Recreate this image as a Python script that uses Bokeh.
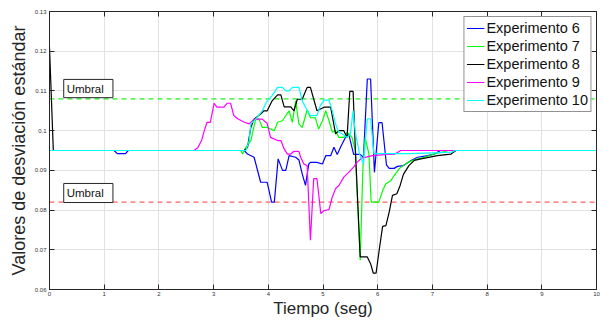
from bokeh.plotting import figure
from bokeh.models import Range1d, LinearAxis, FixedTicker, BoxAnnotation, Label
from bokeh.embed import file_html
from bokeh.resources import INLINE

# ---------------- data ----------------
x_ticks = [0, 1, 2, 3, 4, 5, 6, 7, 8, 9, 10]
y_ticks = [0.06, 0.07, 0.08, 0.09, 0.1, 0.11, 0.12, 0.13]
y_tick_labels = ["0.06", "0.07", "0.08", "0.09", "0.1", "0.11", "0.12", "0.13"]

umbral_t = [0, 10]
umbral_alto = [0.108, 0.108]
umbral_bajo = [0.082, 0.082]

t6 = [0, 1.18, 1.24, 1.39, 1.44, 3.56, 3.62, 3.74, 3.86, 3.98, 4.06, 4.11, 4.18, 4.26, 4.32, 4.38,
      4.50, 4.56, 4.62, 4.68, 4.74, 4.77, 4.89, 4.99, 5.05, 5.14, 5.20, 5.26, 5.32, 5.41, 5.47, 5.56,
      5.68, 5.74, 5.81, 5.87, 5.94, 6.02, 6.08, 6.16, 6.21, 6.30, 6.36, 6.47, 6.61, 6.73, 6.91, 7.03,
      7.15, 10]
v6 = [0.095, 0.095, 0.0942, 0.0942, 0.095, 0.095, 0.0941, 0.0933, 0.0870, 0.0870, 0.0820, 0.0820,
      0.0929, 0.0900, 0.0900, 0.0937, 0.0933, 0.0926, 0.0891, 0.0862, 0.0916, 0.0920, 0.0920, 0.0916,
      0.0937, 0.0937, 0.0958, 0.0940, 0.0958, 0.0983, 0.0992, 0.0940, 0.0940, 0.0933, 0.1130, 0.1130,
      0.0895, 0.1020, 0.1020, 0.0914, 0.0905, 0.0905, 0.0910, 0.0912, 0.0925, 0.0933, 0.0937, 0.0941,
      0.095, 0.095]

t7 = [0, 3.50, 3.53, 3.59, 3.68, 3.77, 3.83, 3.89, 3.98, 4.11, 4.17, 4.26, 4.32, 4.38, 4.44, 4.50,
      4.56, 4.62, 4.71, 4.77, 4.86, 4.92, 4.99, 5.05, 5.11, 5.17, 5.23, 5.29, 5.38, 5.44, 5.53, 5.59,
      5.68, 5.73, 5.77, 5.84, 5.88, 6.02, 6.09, 6.15, 6.24, 6.30, 6.40, 6.55, 6.70, 6.85, 7.0, 7.15,
      7.30, 10]
v7 = [0.095, 0.095, 0.0941, 0.0958, 0.0975, 0.1029, 0.1029, 0.1008, 0.1008, 0.1000, 0.1021, 0.1025,
      0.1038, 0.1050, 0.1021, 0.1075, 0.1017, 0.1008, 0.1052, 0.1033, 0.1032, 0.1004, 0.1025, 0.1050,
      0.1025, 0.0996, 0.1000, 0.0983, 0.0983, 0.0996, 0.0983, 0.0950, 0.0674, 0.0908, 0.0983, 0.0941,
      0.0820, 0.0820, 0.0849, 0.0866, 0.0874, 0.0887, 0.0905, 0.0920, 0.0928, 0.0933, 0.0940, 0.0945,
      0.095, 0.095]

t8 = [0, 0.07, 3.56, 3.62, 3.68, 3.74, 3.86, 3.92, 3.98, 4.07, 4.17, 4.23, 4.29, 4.41, 4.47, 4.53,
      4.62, 4.71, 4.77, 4.89, 5.02, 5.14, 5.23, 5.29, 5.38, 5.44, 5.49, 5.55, 5.59, 5.68, 5.81, 5.87,
      5.92, 5.97, 6.03, 6.09, 6.15, 6.21, 6.27, 6.35, 6.41, 6.47, 6.57, 6.67, 6.79, 7.09, 7.34, 7.43, 10]
v8 = [0.121, 0.095, 0.095, 0.0958, 0.1008, 0.1029, 0.1042, 0.1050, 0.1050, 0.1075, 0.1090, 0.1090,
      0.1060, 0.1060, 0.1050, 0.1079, 0.1079, 0.1109, 0.1109, 0.1050, 0.1059, 0.1059, 0.0992, 0.1000,
      0.1000, 0.0983, 0.1099, 0.1099, 0.0958, 0.0682, 0.0682, 0.0665, 0.0641, 0.0641, 0.0702, 0.0759,
      0.0761, 0.0795, 0.0837, 0.0841, 0.0862, 0.0890, 0.0912, 0.0925, 0.0929, 0.0937, 0.0941, 0.095,
      0.095]

t9 = [0, 2.64, 2.71, 2.78, 2.83, 2.88, 2.94, 3.01, 3.06, 3.19, 3.25, 3.31, 3.37, 3.44, 3.56, 3.65,
      3.74, 3.89, 3.98, 4.04, 4.17, 4.23, 4.29, 4.35, 4.41, 4.47, 4.56, 4.59, 4.65, 4.71, 4.77, 4.83,
      4.89, 4.96, 5.02, 5.11, 5.17, 5.23, 5.29, 5.38, 5.47, 5.56, 5.62, 5.71, 5.90, 6.17, 6.30, 6.42, 10]
v9 = [0.095, 0.095, 0.0957, 0.0975, 0.1000, 0.1021, 0.1021, 0.1069, 0.1059, 0.1059, 0.1069, 0.1069,
      0.1038, 0.1030, 0.1021, 0.1017, 0.1029, 0.1029, 0.1018, 0.0983, 0.0975, 0.0975, 0.0954, 0.0941,
      0.0941, 0.0948, 0.0948, 0.0933, 0.0916, 0.0912, 0.0724, 0.0879, 0.0879, 0.0791, 0.0799, 0.0801,
      0.0833, 0.0854, 0.0862, 0.0883, 0.0895, 0.0908, 0.0920, 0.0931, 0.0937, 0.0940, 0.0940, 0.0950,
      0.095]

t10 = [0, 3.59, 3.65, 3.68, 3.77, 3.89, 3.98, 4.07, 4.17, 4.26, 4.32, 4.38, 4.44, 4.56, 4.62, 4.68,
       4.77, 4.89, 4.95, 5.02, 5.11, 5.17, 5.23, 5.29, 5.35, 5.44, 5.50, 5.55, 5.59, 5.67, 5.74, 5.81,
       5.87, 5.93, 6.59, 7.0, 7.35, 7.42, 10]
v10 = [0.095, 0.095, 0.0975, 0.1017, 0.1029, 0.1050, 0.1075, 0.1088, 0.1109, 0.1109, 0.1100, 0.1100,
       0.1109, 0.1109, 0.1075, 0.1059, 0.1038, 0.1038, 0.1063, 0.1077, 0.1077, 0.1050, 0.1017, 0.0996,
       0.0992, 0.0983, 0.0992, 0.1050, 0.0996, 0.0940, 0.0916, 0.1030, 0.1030, 0.0942, 0.0942, 0.0944,
       0.0946, 0.095, 0.095]

series = [
    ("Experimento 6", t6, v6, "#0000ff"),
    ("Experimento 7", t7, v7, "#00ff00"),
    ("Experimento 8", t8, v8, "#000000"),
    ("Experimento 9", t9, v9, "#ff00ff"),
    ("Experimento 10", t10, v10, "#00ffff"),
]

FONT = "Liberation Sans"
AX = "#262626"

p = figure(width=605, height=320, x_range=Range1d(0, 10), y_range=Range1d(0.06, 0.13),
           output_backend="svg", toolbar_location=None,
           min_border_left=49, min_border_right=9, min_border_top=11, min_border_bottom=31)
p.background_fill_color = "white"
p.border_fill_color = "white"
p.outline_line_color = AX
p.outline_line_width = 1

def style_axis(ax, labels=True):
    ax.axis_line_color = AX
    ax.major_tick_line_color = AX
    ax.major_tick_in = 5
    ax.major_tick_out = 0
    ax.minor_tick_line_color = None
    ax.major_label_text_font = FONT
    ax.major_label_text_font_size = "6px"
    ax.major_label_text_color = "#333333" if labels else None
    ax.major_label_standoff = 3
    ax.axis_label_text_font = FONT
    ax.axis_label_text_font_style = "normal"
    ax.axis_label_text_color = AX

xt = FixedTicker(ticks=x_ticks)
yt = FixedTicker(ticks=y_ticks)
p.xaxis.ticker = xt
p.yaxis.ticker = yt
p.yaxis.major_label_overrides = {k: s for k, s in zip(y_ticks, y_tick_labels)}
for ax in p.xaxis + p.yaxis:
    style_axis(ax)
p.xaxis.axis_label = "Tiempo (seg)"
p.yaxis.axis_label = "Valores de desviación estándar"
p.xaxis.axis_label_text_font_size = "17px"
p.yaxis.axis_label_text_font_size = "18px"
p.xaxis.major_label_standoff = 2
p.xaxis.axis_label_standoff = 0
p.yaxis.axis_label_standoff = 3

top_ax = LinearAxis(ticker=FixedTicker(ticks=x_ticks))
style_axis(top_ax, labels=False)
top_ax.major_label_text_font_size = "1px"
p.add_layout(top_ax, "above")
right_ax = LinearAxis(ticker=FixedTicker(ticks=y_ticks))
style_axis(right_ax, labels=False)
right_ax.major_label_text_font_size = "1px"
p.add_layout(right_ax, "right")

p.xgrid.ticker = xt
p.ygrid.ticker = yt
p.xgrid.grid_line_color = "#e2e2e2"
p.ygrid.grid_line_color = "#e2e2e2"

# threshold lines
p.line(umbral_t, umbral_alto, line_color="#22ee22", line_width=1.2, line_dash="5 4")
p.line(umbral_t, umbral_bajo, line_color="#ff6060", line_width=1.2, line_dash="5 4")

for name, t, v, c in series:
    p.line(t, v, line_color=c, line_width=1.2, legend_label=name)

# Umbral labels
for (bot, top, ymid) in [(0.1083, 0.1129, 0.1106), (0.0819, 0.0867, 0.0843)]:
    p.add_layout(BoxAnnotation(left=0.26, right=1.16, bottom=bot, top=top,
                               fill_color="white", fill_alpha=1.0,
                               line_color=AX, line_width=1, line_alpha=1.0))
    p.add_layout(Label(x=0.315, y=ymid, text="Umbral", text_font=FONT, text_font_size="11.5px",
                       text_baseline="middle", text_align="left", text_color="#111111"))

lg = p.legend[0]
lg.location = "top_right"
lg.margin = 5
lg.padding = 2
lg.spacing = 0
lg.glyph_width = 18
lg.glyph_height = 18
lg.label_height = 18
lg.label_standoff = 2
lg.label_text_font = FONT
lg.label_text_font_size = "14.5px"
lg.label_text_color = "#111111"
lg.border_line_color = AX
lg.border_line_width = 1
lg.background_fill_color = "white"
lg.background_fill_alpha = 1.0

open("out.html", "w").write(file_html(p, INLINE))
